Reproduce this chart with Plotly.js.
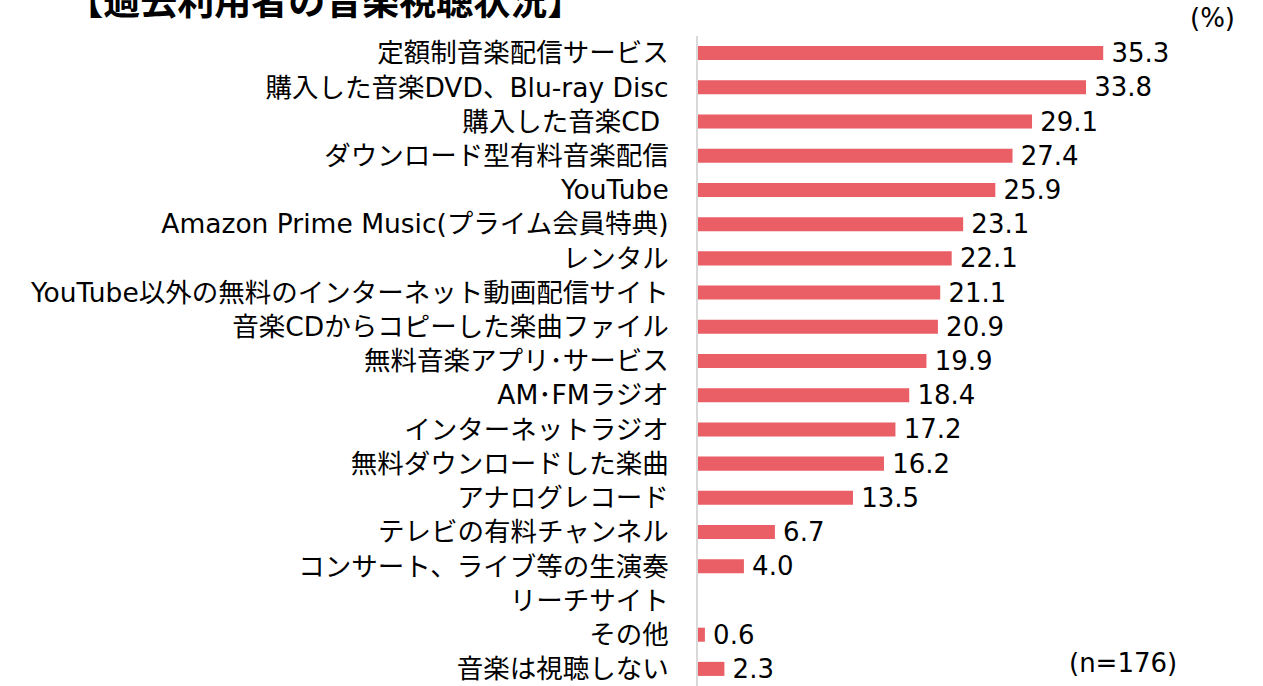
<!DOCTYPE html>
<html>
<head>
<meta charset="utf-8">
<script src="https://cdn.plot.ly/plotly-3.0.1.min.js"></script>
<style>html,body{margin:0;padding:0;background:#fff;}#chart{width:1263px;height:686px;}</style>
</head>
<body>
<div id="chart"></div>
<script>
const categories = [
  "定額制音楽配信サービス",
  "購入した音楽DVD、Blu-ray Disc",
  "購入した音楽CD\u00a0",
  "ダウンロード型有料音楽配信",
  "YouTube",
  "Amazon Prime Music(プライム会員特典)",
  "レンタル",
  "YouTube以外の無料のインターネット動画配信サイト",
  "音楽CDからコピーした楽曲ファイル",
  "無料音楽アプリ･サービス",
  "AM･FMラジオ",
  "インターネットラジオ",
  "無料ダウンロードした楽曲",
  "アナログレコード",
  "テレビの有料チャンネル",
  "コンサート、ライブ等の生演奏",
  "リーチサイト",
  "その他",
  "音楽は視聴しない"
];
const values = [35.3, 33.8, 29.1, 27.4, 25.9, 23.1, 22.1, 21.1, 20.9, 19.9, 18.4, 17.2, 16.2, 13.5, 6.7, 4.0, null, 0.6, 2.3];
const titleText = "【過去利用者の音楽視聴状況】";
const unitText = "(%)";
const sampleText = "(n=176)";

const FONT = "'DejaVu Sans', 'Noto Sans CJK JP', sans-serif";
const labels = values.map(v => v == null ? "" : "\u2009" + v.toFixed(1));

const trace = {
  type: "bar",
  orientation: "h",
  y: categories,
  x: values,
  text: labels,
  textposition: "outside",
  constraintext: "none",
  cliponaxis: false,
  textfont: {family: FONT, size: 26, color: "#000"},
  marker: {color: "#EA5E66"},
  width: 0.41,
  hoverinfo: "none"
};

const layout = {
  width: 1263,
  height: 686,
  margin: {l: 698, r: 14, t: 36, b: 0},
  paper_bgcolor: "#fff",
  plot_bgcolor: "#fff",
  showlegend: false,
  title: {
    text: "<b>" + titleText + "</b>",
    x: 0.2575, xref: "container", xanchor: "center",
    y: 0.978, yref: "container", yanchor: "bottom",
    font: {family: FONT, size: 37, color: "#000"}
  },
  xaxis: {range: [0, 48], visible: false, fixedrange: true},
  yaxis: {
    type: "category",
    autorange: false,
    range: [18.5, -0.5],
    showline: true, linecolor: "#d9d9d9", linewidth: 2,
    showgrid: false, zeroline: false, ticks: "",
    ticklabelstandoff: 22,
    tickfont: {family: FONT, size: 26.5, color: "#000"}
  },
  annotations: [
    {text: unitText, xref: "paper", yref: "paper", x: 0.933, y: 1.0277, xanchor: "center", yanchor: "middle", showarrow: false, font: {family: FONT, size: 26, color: "#000"}},
    {text: sampleText, xref: "paper", yref: "paper", x: 0.771, y: 0.0354, xanchor: "center", yanchor: "middle", showarrow: false, font: {family: FONT, size: 26, color: "#000"}}
  ]
};

Plotly.newPlot("chart", [trace], layout, {displayModeBar: false, staticPlot: true});
</script>
</body>
</html>
